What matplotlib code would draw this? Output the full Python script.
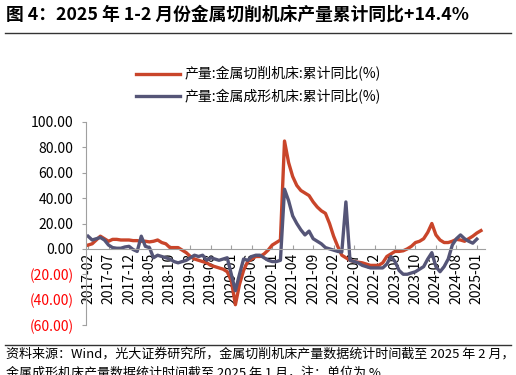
import matplotlib
matplotlib.use("Agg")
import matplotlib.pyplot as plt
import pandas as pd
import numpy as np

plt.rcParams['font.family'] = ['Noto Sans CJK SC', 'DejaVu Sans']

# monthly, 2017-02 .. 2025-02
months = pd.date_range('2017-02-01', '2025-02-01', freq='MS').strftime('%Y-%m').tolist()

cutting = [3, 4, 7, 10, 8, 6, 7.5, 7.5, 7, 7, 7, 6.5, 6.5, 6, 6, 5.5, 6, 7, 5, 4,
           1, 1, 1, -1, -3, -6, -8, -9, -10, -11, -13, -14, -15, -16, -18, -25, -44, -28, -17, -10,
           -8, -6, -6, -4, -1, 3, 5, 7, 85, 68, 57, 50, 46, 44, 42, 37, 33, 30, 28, 20,
           10, 2, -5, -7, -9, -10, -10.5, -11, -12, -13, -13, -13, -11, -6, -4, -2, -2, -1.5, 0, 2,
           5, 6, 8, 13, 20, 11, 7, 5, 5, 6, 7.5, 7, 6, 8, 10, 12.5, 14.4]

forming = [10, 7, 8, 9, 7, 3, 1, 0.5, 0.5, 1.5, 2, -0.5, -2, 10, 2, 1, -7, -5, -6, -7,
           -8, -10, -11, -10, -9, -7, -5, -6, -5, -9, -7, -8, -9, -8, -7, -20, -33, -20, -8, -9,
           -6, -5, -5, -7, -9, -10, -10, -9, 47, 38, 26, 20, 15, 11, 14, 8, 6, 4, 1, 0,
           -1, -2, -2.5, 37, -9, -10, -11, -13, -14, -15, -15, -15, -15, -12, -6, -10, -17, -20, -20, -19,
           -18, -16, -14, -8, -3, -14, -18, -14, -8, 3, 8, 11, 8, 6, 4.5, 7.7]

yticks = [-60, -40, -20, 0, 20, 40, 60, 80, 100]

red = '#C9452A'
navy = '#555577'

fig = plt.figure(figsize=(5.16, 3.75), dpi=100)
ax = fig.add_axes([0.1667, 0.1333, 0.7733, 0.5414])

# x axis sits on the zero line (set first: moving a spine resets tick labels)
ax.spines['bottom'].set_position(('data', 0))
ax.spines['bottom'].set_color('#A0A0A0')
ax.spines['left'].set_color('#A0A0A0')
ax.spines['top'].set_visible(False)
ax.spines['right'].set_visible(False)

x_c = np.arange(len(cutting))
x_f = np.arange(len(forming))
ax.plot(x_c, cutting, color=red, lw=2.4, solid_joinstyle='round', label='产量:金属切削机床:累计同比(%)')
ax.plot(x_f, forming, color=navy, lw=2.4, solid_joinstyle='round', label='产量:金属成形机床:累计同比(%)')

ax.set_xlim(-0.5, 97)
ax.set_ylim(-60, 100)
ax.set_yticks(yticks)
labels = []
for v in yticks:
    labels.append('(%.2f)' % abs(v) if v < 0 else '%.2f' % v)
ax.set_yticklabels(labels, fontsize=10)
for t, v in zip(ax.get_yticklabels(), yticks):
    if v < 0:
        t.set_color('#FF0000')

tick_pos = list(range(0, len(months), 5))
ax.set_xticks(tick_pos)
ax.set_xticklabels([months[i] for i in tick_pos], rotation=90, fontsize=10, va='top')
ax.tick_params(axis='x', direction='in', length=3, color='#A0A0A0', pad=3)
ax.tick_params(axis='y', direction='out', length=3, color='#A0A0A0', pad=6)

fig.legend(loc='upper center', bbox_to_anchor=(0.5, 1 - 54 / 375), frameon=False,
           fontsize=10, handlelength=3.2, labelspacing=0.55, handletextpad=0.3)

fig.text(0.012, 1 - 15 / 375, '图 4：2025 年 1-2 月份金属切削机床产量累计同比+14.4%',
         fontsize=12.8, fontweight='bold', va='center', ha='left')
fig.add_artist(plt.Line2D([0.01, 0.99], [1 - 33 / 375, 1 - 33 / 375], color='#333333', lw=1))
fig.add_artist(plt.Line2D([0.01, 0.99], [1 - 345 / 375, 1 - 345 / 375], color='#333333', lw=1))
fig.text(0.012, 1 - 354 / 375, '资料来源：Wind，光大证券研究所，金属切削机床产量数据统计时间截至 2025 年 2 月，',
         fontsize=9.4, va='center', ha='left')
fig.text(0.012, 1 - 373 / 375, '金属成形机床产量数据统计时间截至 2025 年 1 月，注：单位为 %',
         fontsize=9.4, va='center', ha='left')

fig.savefig('out.png', dpi=100)
